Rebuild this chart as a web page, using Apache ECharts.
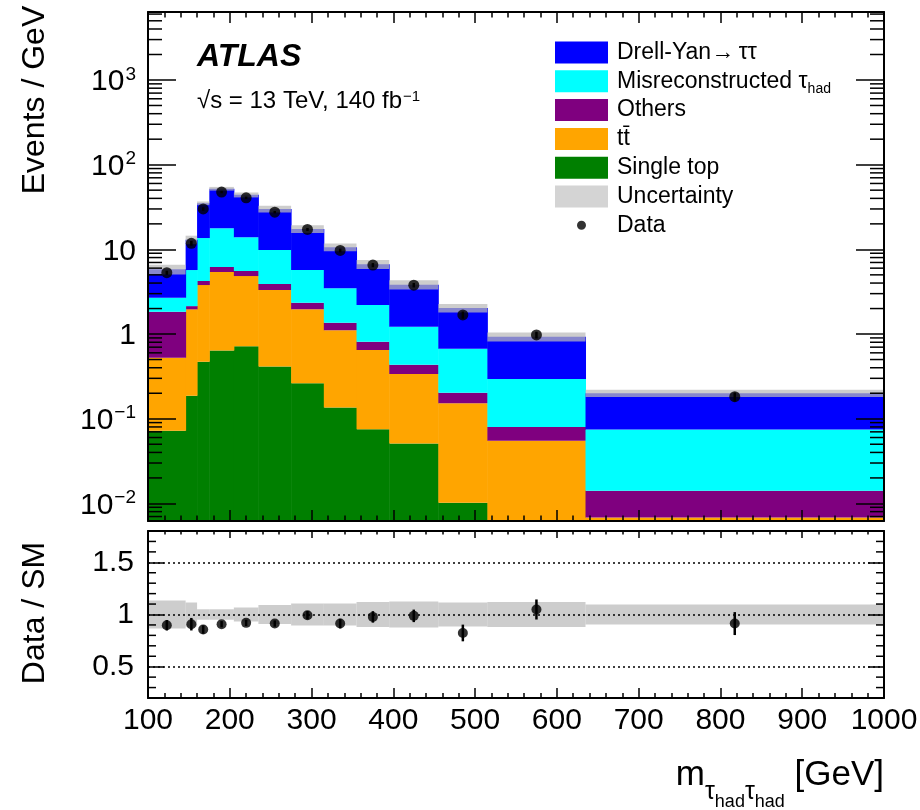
<!DOCTYPE html>
<html><head><meta charset="utf-8">
<script src="https://cdn.jsdelivr.net/npm/echarts@6/dist/echarts.min.js"></script>
<style>html,body{margin:0;padding:0;background:#fff}#c{width:920px;height:810px}</style>
</head><body><div id="c"></div>
<script>
// ---------------- data (events / GeV) ----------------
const binEdges   = [100, 146, 160, 175, 205, 235, 275, 315, 355, 395, 455, 515, 635, 1000];
const singleTop  = [0.072, 0.187, 0.47, 0.64, 0.72, 0.415, 0.262, 0.136, 0.075, 0.051, 0.0102, 0, 0];
const ttbar      = [0.453, 1.77, 3.32, 4.76, 4.12, 2.9, 1.70, 0.974, 0.572, 0.286, 0.142, 0.055, 0.0068];
const others     = [1.31, 0.18, 0.44, 0.8, 0.71, 0.59, 0.38, 0.25, 0.163, 0.097, 0.051, 0.025, 0.0073];
const misrecTau  = [0.85, 3.56, 9.37, 11.5, 8.35, 5.9, 3.36, 2.11, 1.39, 0.786, 0.468, 0.214, 0.0607];
const drellYan   = [3.12, 7.3, 21.4, 34.3, 30.1, 20.2, 11.7, 7.13, 4.47, 2.61, 1.36, 0.636, 0.125];
const dataValues = [5.3, 11.8, 30.0, 47.5, 40.6, 27.5, 17.2, 9.7, 6.52, 3.78, 1.68, 0.975, 0.182];
const ratioValues = [0.897, 0.907, 0.856, 0.907, 0.92, 0.913, 0.993, 0.913, 0.977, 0.987, 0.823, 1.048, 0.913];
const ratioErrors = [0.05, 0.06, 0.04, 0.03, 0.03, 0.03, 0.04, 0.046, 0.055, 0.06, 0.08, 0.096, 0.11];
const bandRelUnc  = [0.133, 0.115, 0.05, 0.05, 0.067, 0.09, 0.106, 0.106, 0.12, 0.125, 0.115, 0.12, 0.097];
const mainYTickExponents = [-2, -1, 0, 1, 2, 3];
const ratioTickLabels = [0.5, 1, 1.5];
const legendLabels = {
  'Drell-Yan': '{n|Drell-Yan\u2192\u2009\u03c4\u03c4}{sub| }',
  'Misreconstructed': '{n|Misreconstructed \u03c4}{sub|had}',
  'Others': '{n|Others}{sub| }',
  'ttbar': '{n|tt\u0304}{sub| }',
  'Single top': '{n|Single top}{sub| }',
  'Uncertainty': '{n|Uncertainty}{sub| }',
  'Data': '{n|Data}{sub| }'
};

// ---------------- setup ----------------
const FONT = '"Liberation Sans", Arial, Helvetica, sans-serif';
const YMIN = 0.0062, YMAX = 6350;
const RMIN = 0.2, RMAX = 1.8;
const nb = binEdges.length - 1;
const centers = [];
for (let i = 0; i < nb; i++) centers.push((binEdges[i] + binEdges[i + 1]) / 2);

function rectItem(overlap) {
  return function (params, api) {
    const a = api.coord([api.value(0), api.value(3)]);
    const b = api.coord([api.value(1), api.value(2)]);
    return { type: 'rect', shape: { x: a[0], y: a[1], width: b[0] - a[0] + overlap, height: b[1] - a[1] },
      style: { fill: api.visual('color') } };
  };
}
function errItem(params, api) {
  const a = api.coord([api.value(0), api.value(1)]);
  const b = api.coord([api.value(0), api.value(2)]);
  return { type: 'line', shape: { x1: a[0], y1: a[1], x2: b[0], y2: b[1] }, style: { stroke: '#000', lineWidth: 2.5 } };
}
function yTickItem(xmin, xmax, len) {
  return function (params, api) {
    const l = api.coord([xmin, api.value(0)]);
    const r = api.coord([xmax, api.value(0)]);
    return { type: 'group', children: [
      { type: 'line', shape: { x1: l[0], y1: l[1], x2: l[0] + len, y2: l[1] }, style: { stroke: '#000', lineWidth: 1.5 } },
      { type: 'line', shape: { x1: r[0] - len, y1: r[1], x2: r[0], y2: r[1] }, style: { stroke: '#000', lineWidth: 1.5 } }
    ] };
  };
}

const layers = [
  { name: 'Single top', vals: singleTop, color: '#007f00' },
  { name: 'ttbar', vals: ttbar, color: '#ffa500' },
  { name: 'Others', vals: others, color: '#7f007f' },
  { name: 'Misreconstructed', vals: misrecTau, color: '#00ffff' },
  { name: 'Drell-Yan', vals: drellYan, color: '#0000ff' }
];
const cum = new Array(nb).fill(0);
const series = [];
layers.forEach(L => {
  const d = [];
  for (let i = 0; i < nb; i++) {
    const lo = cum[i], hi = cum[i] + L.vals[i];
    cum[i] = hi;
    if (L.vals[i] > 0 && hi > YMIN) d.push([binEdges[i], binEdges[i + 1], Math.max(lo, YMIN), hi]);
  }
  series.push({ type: 'custom', name: L.name, xAxisIndex: 0, yAxisIndex: 0, z: 2, silent: true,
    itemStyle: { color: L.color }, encode: { x: [0, 1], y: [2, 3] }, renderItem: rectItem(0.5), data: d });
});
const BANDCOL = 'rgba(186,186,186,0.72)';
const bandMain = [], bandRatio = [], errMain = [], errRatio = [], ptsMain = [], ptsRatio = [];
for (let i = 0; i < nb; i++) {
  const t = cum[i], u = bandRelUnc[i];
  bandMain.push([binEdges[i], binEdges[i + 1], t * (1 - u), t * (1 + u)]);
  bandRatio.push([binEdges[i], binEdges[i + 1], 1 - u, 1 + u]);
  const rel = ratioErrors[i] / ratioValues[i];
  errMain.push([centers[i], dataValues[i] * (1 - rel), dataValues[i] * (1 + rel)]);
  errRatio.push([centers[i], ratioValues[i] - ratioErrors[i], ratioValues[i] + ratioErrors[i]]);
  ptsMain.push([centers[i], dataValues[i]]);
  ptsRatio.push([centers[i], ratioValues[i]]);
}
series.push({ type: 'custom', name: 'Uncertainty', xAxisIndex: 0, yAxisIndex: 0, z: 3, silent: true,
  itemStyle: { color: BANDCOL }, encode: { x: [0, 1], y: [2, 3] }, renderItem: rectItem(0), data: bandMain });
series.push({ type: 'custom', name: 'errMain', xAxisIndex: 0, yAxisIndex: 0, z: 4, silent: true,
  encode: { x: 0, y: [1, 2] }, renderItem: errItem, data: errMain });
series.push({ type: 'scatter', name: 'Data', xAxisIndex: 0, yAxisIndex: 0, z: 5, silent: true,
  symbol: 'circle', symbolSize: 11, itemStyle: { color: '#000' }, data: ptsMain });
series.push({ type: 'custom', name: 'bandRatio', xAxisIndex: 2, yAxisIndex: 2, z: 3, silent: true,
  itemStyle: { color: BANDCOL }, encode: { x: [0, 1], y: [2, 3] }, renderItem: rectItem(0), data: bandRatio });
series.push({ type: 'custom', name: 'errRatio', xAxisIndex: 2, yAxisIndex: 2, z: 4, silent: true,
  encode: { x: 0, y: [1, 2] }, renderItem: errItem, data: errRatio });
series.push({ type: 'scatter', name: 'ratioPts', xAxisIndex: 2, yAxisIndex: 2, z: 5, silent: true,
  symbol: 'circle', symbolSize: 10, itemStyle: { color: '#000' }, data: ptsRatio });

// minor ticks (ROOT style: 2..9 x 10^n on the log axis, 0.1 steps on the ratio axis)
const logMinor = [];
for (let e = -3; e <= 3; e++) for (let m = 2; m <= 9; m++) {
  const v = m * Math.pow(10, e);
  if (v > YMIN && v < YMAX) logMinor.push([v]);
}
const ratioMinor = [];
for (let k = 3; k <= 17; k++) if (k % 5 !== 0) ratioMinor.push([k / 10]);
series.push({ type: 'custom', name: 'logMinor', xAxisIndex: 0, yAxisIndex: 0, z: 11, silent: true,
  encode: { y: 0 }, renderItem: yTickItem(100, 1000, 14), data: logMinor });
series.push({ type: 'custom', name: 'ratioMinor', xAxisIndex: 2, yAxisIndex: 2, z: 11, silent: true,
  encode: { y: 0 }, renderItem: yTickItem(100, 1000, 8), data: ratioMinor });

// ---------------- axes ----------------
const axisLine = { show: true, onZero: false, lineStyle: { color: '#000', width: 2 } };
const tickStyle = { color: '#000', width: 1.5 };
function xAx(grid, pos, major, minor, labels) {
  return { gridIndex: grid, type: 'value', min: 100, max: 1000, interval: 100, position: pos, z: 10,
    axisLine: axisLine,
    axisTick: { show: true, inside: true, length: major, lineStyle: tickStyle },
    minorTick: { show: true, splitNumber: 5, length: minor, lineStyle: tickStyle },
    splitLine: { show: false },
    axisLabel: labels ? { show: true, fontSize: 30, fontFamily: FONT, color: '#000', margin: 8,
                          formatter: v => String(v) } : { show: false } };
}
function logLabel(v) {
  const lg = Math.log10(v), e = Math.round(lg);
  if (Math.abs(lg - e) > 1e-6 || mainYTickExponents.indexOf(e) < 0) return '';
  if (e === 0) return '{b|1}';
  if (e === 1) return '{b|10}';
  return '{b|10}{s|' + (e < 0 ? '\u2212' + (-e) : String(e)) + '}';
}
function ratioLabel(v) {
  return ratioTickLabels.some(t => Math.abs(t - v) < 1e-9) ? String(v) : '';
}
const yAxes = [
  { gridIndex: 0, type: 'log', logBase: 10, min: YMIN, max: YMAX, position: 'left', z: 10,
    axisLine: axisLine, axisTick: { show: true, inside: true, length: 28, lineStyle: tickStyle },
    splitLine: { show: false },
    axisLabel: { show: true, formatter: logLabel, margin: 12, color: '#000',
      rich: { b: { fontSize: 30, fontFamily: FONT, color: '#000', lineHeight: 30, padding: [10, 0, 6, 0] },
              s: { fontSize: 19, fontFamily: FONT, color: '#000', lineHeight: 20, verticalAlign: 'top', padding: [0, 0, 0, 1] } } } },
  { gridIndex: 0, type: 'log', logBase: 10, min: YMIN, max: YMAX, position: 'right', z: 10,
    axisLine: axisLine, axisTick: { show: true, inside: true, length: 28, lineStyle: tickStyle },
    splitLine: { show: false }, axisLabel: { show: false } },
  { gridIndex: 1, type: 'value', min: RMIN, max: RMAX, splitNumber: 3, position: 'left', z: 10,
    axisLine: axisLine, axisTick: { show: true, inside: true, length: 16, lineStyle: tickStyle },
    splitLine: { show: true, lineStyle: { type: [2, 3], color: '#000', width: 1.5 } },
    axisLabel: { show: true, formatter: ratioLabel, fontSize: 30, fontFamily: FONT, color: '#000', margin: 14 } },
  { gridIndex: 1, type: 'value', min: RMIN, max: RMAX, splitNumber: 3, position: 'right', z: 10,
    axisLine: axisLine, axisTick: { show: true, inside: true, length: 16, lineStyle: tickStyle },
    splitLine: { show: false }, axisLabel: { show: false } }
];

const DATA_ICON = 'path://M0,0L0.01,0M53,22L53.01,22M31,11A4.5,4.5,0,1,1,22,11A4.5,4.5,0,1,1,31,11Z';
const legendText = { fontSize: 23, fontFamily: FONT, color: '#000', lineHeight: 22 };

const option = {
  animation: false,
  backgroundColor: '#fff',
  grid: [
    { left: 148, right: 36, top: 12, height: 509, show: false, containLabel: false, outerBoundsMode: 'none' },
    { left: 148, right: 36, top: 531, height: 167, show: false, containLabel: false, outerBoundsMode: 'none' }
  ],
  xAxis: [xAx(0, 'bottom', 11, 5.5, false), xAx(0, 'top', 11, 5.5, false),
          xAx(1, 'bottom', 10, 5, true), xAx(1, 'top', 7, 3.5, false)],
  yAxis: yAxes,
  legend: {
    orient: 'vertical', left: 555, top: 41, itemWidth: 53, itemHeight: 22, itemGap: 2.3,
    selectedMode: false, padding: 0,
    formatter: n => legendLabels[n],
    textStyle: { fontSize: 23, fontFamily: FONT, color: '#000', lineHeight: 22, padding: [0, 0, 0, 4],
      rich: { n: legendText,
              sub: { fontSize: 14, fontFamily: FONT, color: '#000', lineHeight: 8, padding: [12, 0, 0, 0], verticalAlign: 'top' } } },
    data: [
      { name: 'Drell-Yan', icon: 'rect' },
      { name: 'Misreconstructed', icon: 'rect' },
      { name: 'Others', icon: 'rect' },
      { name: 'ttbar', icon: 'rect' },
      { name: 'Single top', icon: 'rect' },
      { name: 'Uncertainty', icon: 'rect', itemStyle: { color: '#d4d4d4' } },
      { name: 'Data', icon: DATA_ICON }
    ]
  },
  graphic: [
    { type: 'text', x: 197, y: 57, silent: true,
      style: { text: 'ATLAS', fontSize: 32, fontWeight: 'bold', fontStyle: 'italic', fontFamily: FONT, fill: '#000',
               verticalAlign: 'middle', textVerticalAlign: 'middle' } },
    { type: 'text', x: 197, y: 101, silent: true,
      style: { text: '\u221As = 13 TeV, 140 fb{s|\u22121}', fontSize: 24, fontFamily: FONT, fill: '#000',
               verticalAlign: 'middle', textVerticalAlign: 'middle',
               rich: { s: { fontSize: 15, fontFamily: FONT, fill: '#000', verticalAlign: 'top', lineHeight: 15, padding: [0, 0, 0, 1] } } } },
    { type: 'text', x: 35, y: 100, rotation: Math.PI / 2, silent: true,
      style: { text: 'Events / GeV', fontSize: 32, fontFamily: FONT, fill: '#000',
               align: 'center', textAlign: 'center', verticalAlign: 'middle', textVerticalAlign: 'middle' } },
    { type: 'text', x: 35, y: 613, rotation: Math.PI / 2, silent: true,
      style: { text: 'Data / SM', fontSize: 32, fontFamily: FONT, fill: '#000',
               align: 'center', textAlign: 'center', verticalAlign: 'middle', textVerticalAlign: 'middle' } },
    { type: 'text', x: 884, y: 758, silent: true,
      style: { text: '{m|m}{t|\u03c4}{h|had}{t|\u03c4}{h|had}{m| [GeV]}', fill: '#000',
               align: 'right', textAlign: 'right', verticalAlign: 'top', textVerticalAlign: 'top',
               rich: {
                 m: { fontSize: 35, fontFamily: FONT, fill: '#000', lineHeight: 40, verticalAlign: 'top' },
                 t: { fontSize: 25, fontFamily: FONT, fill: '#000', lineHeight: 24, verticalAlign: 'top', padding: [22, 0, 0, 0] },
                 h: { fontSize: 18, fontFamily: FONT, fill: '#000', lineHeight: 17, verticalAlign: 'top', padding: [35, 0, 0, 0] }
               } } }
  ],
  series: series
};
const chart = echarts.init(document.getElementById('c'), null, { renderer: 'canvas' });
chart.setOption(option);
</script>
</body></html>
